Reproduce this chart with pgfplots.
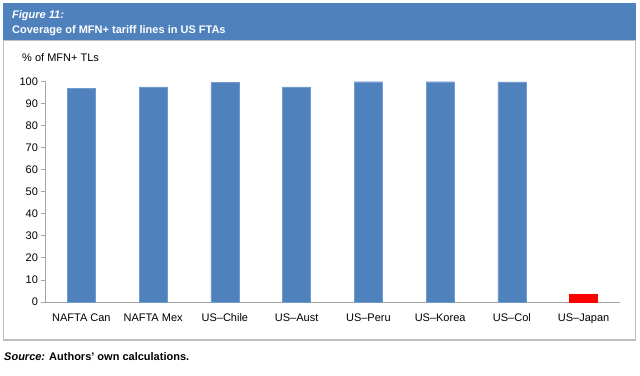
\documentclass[border=0pt]{standalone}
\usepackage{pgfplots}
\pgfplotsset{compat=1.18}
\usepackage{fontspec}
\setmainfont{Liberation Sans}
\definecolor{hdr}{HTML}{4F81BD}
\definecolor{barblue}{HTML}{4F81BD}
\definecolor{frame}{HTML}{BFBFBF}
\definecolor{axgray}{HTML}{A6A6A6}
\begin{document}
\begin{tikzpicture}
\path[use as bounding box] (0pt,0pt) rectangle (640pt,375pt);
\fill[white] (0pt,0pt) rectangle (640pt,375pt);
% frame
\draw[frame, line width=1.5pt] (3.5pt,35pt) rectangle (635.5pt,335pt);
% header
\fill[hdr] (3pt,335pt) rectangle (636pt,372pt);
\node[anchor=base west, inner sep=0pt, text=white, font=\fontsize{11}{13}\selectfont\bfseries\itshape] at (12pt,356.5pt) {Figure 11:};
\node[anchor=base west, inner sep=0pt, text=white, font=\fontsize{11}{13}\selectfont\bfseries] at (12pt,341.7pt) {Coverage of MFN+ tariff lines in US FTAs};
% y label
\node[anchor=base west, inner sep=0pt, font=\fontsize{11}{13}\selectfont] at (22pt,313pt) {\% of MFN+ TLs};
% source
\node[anchor=base west, inner sep=0pt, font=\fontsize{11}{13}\selectfont\bfseries] at (4pt,14.3pt) {\textit{Source:} Authors{\char"0027} own calculations.};
\begin{axis}[
  at={(45.5pt,73pt)}, anchor=south west,
  scale only axis, width=574pt, height=220.5pt,
  xmin=-0.5, xmax=7.5, ymin=0, ymax=100,
  axis x line*=bottom, axis y line*=left,
  axis line style={axgray, line width=0.8pt},
  every tick/.style={axgray, line width=0.8pt},
  tick align=outside,
  major tick length=4pt,
  minor tick length=4pt,
  ytick={0,10,...,100},
  xtick={0,...,7},
  xticklabels={NAFTA Can,NAFTA Mex,US--Chile,US--Aust,US--Peru,US--Korea,US--Col,US--Japan},
  x tick style={draw=none},
  minor xtick={-0.5,0.5,...,7.5},
  minor x tick style={axgray, line width=0.8pt},
  ticklabel style={font=\fontsize{11}{13}\selectfont, text=black},
  /pgf/number format/assume math mode=true,
  xticklabel style={yshift=-4pt},
  ybar, bar width=28pt, bar shift=0pt,
  clip=false,
]
\addplot[fill=barblue, draw=barblue!80!white] coordinates {(0,97.0) (1,97.6) (2,99.5) (3,97.6) (4,99.9) (5,99.9) (6,99.8)};
\addplot[fill=red, draw=red] coordinates {(7,3.4)};
\end{axis}
\end{tikzpicture}
\end{document}
